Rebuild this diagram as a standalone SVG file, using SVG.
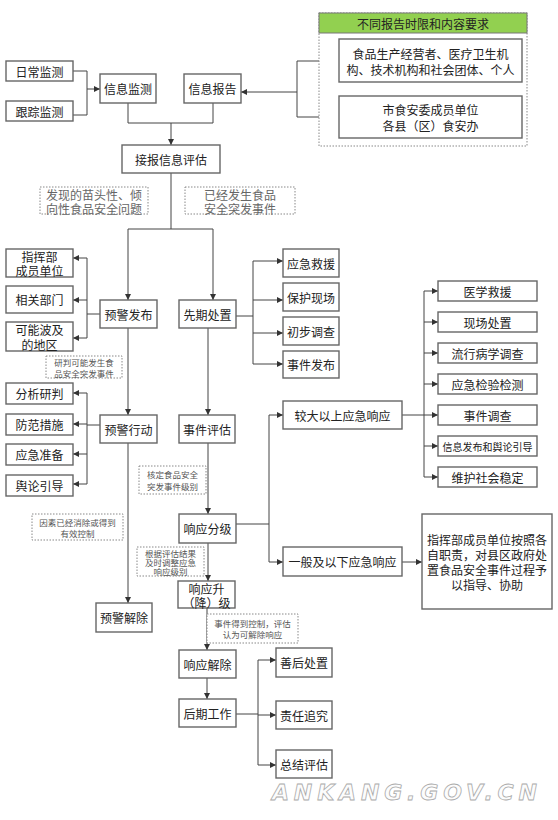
<svg xmlns="http://www.w3.org/2000/svg" width="558" height="820" viewBox="0 0 558 820">
<defs>
<marker id="ah" markerUnits="userSpaceOnUse" markerWidth="6" markerHeight="6" refX="6" refY="3" orient="auto"><path d="M0,0 L6,3 L0,6 z" fill="#333"/></marker>
<style>
.b{fill:#fff;stroke:#666;stroke-width:1.4}
.d{fill:#fff;stroke:#888;stroke-width:1;stroke-dasharray:1.5 1.5}
.t{font-family:"Noto Sans CJK SC","Liberation Sans",sans-serif;font-size:12px;fill:#222;text-anchor:middle;dominant-baseline:central}
.s{font-family:"Noto Sans CJK SC","Liberation Sans",sans-serif;font-size:10px;fill:#222;text-anchor:middle;dominant-baseline:central}
.l{font-family:"Noto Sans CJK SC","Liberation Sans",sans-serif;font-size:12px;fill:#666;text-anchor:middle;dominant-baseline:central}
.m{font-family:"Noto Sans CJK SC","Liberation Sans",sans-serif;font-size:8.5px;fill:#555;text-anchor:middle;dominant-baseline:central}
.c{fill:none;stroke:#444;stroke-width:1}
.a{fill:none;stroke:#444;stroke-width:1;marker-end:url(#ah)}
</style>
</defs>
<rect width="558" height="820" fill="#fff"/>

<g id="connectors">
<path class="c" d="M73,71 H87 V115 H73"/>
<path class="a" d="M87,89 H100"/>
<path class="c" d="M339,61 H297 V117 H339"/>
<path class="a" d="M297,92 H241"/>
<path class="c" d="M128,103 V123 H213 V103"/>
<path class="a" d="M171,123 V145"/>
<path class="c" d="M171,173 V229 M128,229 H213"/>
<path class="a" d="M128,229 V300"/>
<path class="a" d="M213,229 V300"/>
<path class="c" d="M100,314 H87 M87,258 V338"/>
<path class="a" d="M87,258 H73"/>
<path class="a" d="M87,300 H73"/>
<path class="a" d="M87,338 H73"/>
<path class="c" d="M236,316 H253 M253,261 V364"/>
<path class="a" d="M253,261 H283"/>
<path class="a" d="M253,300 H283"/>
<path class="a" d="M253,333 H283"/>
<path class="a" d="M253,364 H283"/>
<path class="a" d="M128,328 V415"/>
<path class="a" d="M208,328 V415"/>
<path class="c" d="M100,425 H87 M87,393 V484"/>
<path class="a" d="M87,393 H73"/>
<path class="a" d="M87,424 H73"/>
<path class="a" d="M87,454 H73"/>
<path class="a" d="M87,484 H73"/>
<path class="a" d="M128,443 V603"/>
<path class="a" d="M208,443 V514"/>
<path class="c" d="M236,524 H269 M269,415 V562"/>
<path class="a" d="M269,415 H283"/>
<path class="a" d="M269,562 H283"/>
<path class="a" d="M402,415 H438"/>
<path class="c" d="M424,291 V477"/>
<path class="a" d="M424,291 H438"/>
<path class="a" d="M424,322 H438"/>
<path class="a" d="M424,353 H438"/>
<path class="a" d="M424,384 H438"/>
<path class="a" d="M424,446 H438"/>
<path class="a" d="M424,477 H438"/>
<path class="a" d="M402,562 H422"/>
<path class="a" d="M208,543 V581"/>
<path class="a" d="M207,608 V650"/>
<path class="a" d="M207,678 V699"/>
<path class="c" d="M236,714 H258 M258,660 V765"/>
<path class="a" d="M258,660 H276"/>
<path class="a" d="M258,715 H276"/>
<path class="a" d="M258,765 H276"/>
</g>

<g id="n-richang"><rect class="b" x="6" y="61" width="67" height="20"/><text class="t" x="39.5" y="71">日常监测</text></g>
<g id="n-genzong"><rect class="b" x="6" y="101" width="67" height="20"/><text class="t" x="39.5" y="111">跟踪监测</text></g>
<g id="n-xinxijiance"><rect class="b" x="100" y="74" width="56" height="29"/><text class="t" x="128" y="88.5">信息监测</text></g>
<g id="n-xinxibaogao"><rect class="b" x="184" y="74" width="57" height="29"/><text class="t" x="212.5" y="88.5">信息报告</text></g>

<g id="n-requirements">
<rect class="d" x="319" y="13" width="208" height="133"/>
<rect x="319" y="13" width="208" height="20" fill="#92d050" stroke="#777" stroke-width="1"/>
<text class="t" x="423" y="23">不同报告时限和内容要求</text>
</g>
<g id="n-source1"><rect class="b" x="339" y="39" width="183" height="43"/><text class="t"><tspan x="430.5" y="53">食品生产经营者、医疗卫生机</tspan><tspan x="430.5" y="68.5">构、技术机构和社会团体、个人</tspan></text></g>
<g id="n-source2"><rect class="b" x="339" y="96" width="183" height="42"/><text class="t"><tspan x="430.5" y="109">市食安委成员单位</tspan><tspan x="430.5" y="125">各县（区）食安办</tspan></text></g>

<g id="n-jiebao"><rect class="b" x="122" y="145" width="98" height="28"/><text class="t" x="171" y="159">接报信息评估</text></g>

<g id="l-faxian"><rect class="d" x="40" y="187" width="108" height="27"/><text class="l"><tspan x="94" y="194">发现的苗头性、倾</tspan><tspan x="94" y="207.5">向性食品安全问题</tspan></text></g>
<g id="l-yijing"><rect class="d" x="185" y="187" width="110" height="27"/><text class="l"><tspan x="240" y="194">已经发生食品</tspan><tspan x="240" y="207.5">安全突发事件</tspan></text></g>

<g id="n-zhihuibu"><rect class="b" x="6" y="249" width="67" height="28"/><text class="t"><tspan x="39.5" y="256">指挥部</tspan><tspan x="39.5" y="270">成员单位</tspan></text></g>
<g id="n-xiangguan"><rect class="b" x="6" y="286" width="67" height="27"/><text class="t" x="39.5" y="299.5">相关部门</text></g>
<g id="n-boji"><rect class="b" x="6" y="322" width="67" height="29"/><text class="t"><tspan x="39.5" y="329">可能波及</tspan><tspan x="39.5" y="344">的地区</tspan></text></g>

<g id="n-yujingfabu"><rect class="b" x="100" y="300" width="57" height="28"/><text class="t" x="128.5" y="314">预警发布</text></g>
<g id="n-xianqi"><rect class="b" x="179" y="300" width="57" height="28"/><text class="t" x="207.5" y="314">先期处置</text></g>

<g id="n-jiuyuan"><rect class="b" x="283" y="249" width="56" height="28"/><text class="t" x="311" y="263">应急救援</text></g>
<g id="n-baohu"><rect class="b" x="283" y="283" width="56" height="28"/><text class="t" x="311" y="297">保护现场</text></g>
<g id="n-chubu"><rect class="b" x="283" y="317" width="56" height="28"/><text class="t" x="311" y="331">初步调查</text></g>
<g id="n-fabu"><rect class="b" x="283" y="351" width="56" height="27"/><text class="t" x="311" y="364.5">事件发布</text></g>

<g id="l-yanpan"><rect class="d" x="46" y="356" width="76" height="22"/><text class="m"><tspan x="84" y="361.5">研判可能发生食</tspan><tspan x="84" y="372.5">品安全突发事件</tspan></text></g>

<g id="n-fenxi"><rect class="b" x="6" y="383" width="67" height="21"/><text class="t" x="39.5" y="393.5">分析研判</text></g>
<g id="n-fangfan"><rect class="b" x="6" y="414" width="67" height="21"/><text class="t" x="39.5" y="424.5">防范措施</text></g>
<g id="n-zhunbei"><rect class="b" x="6" y="444" width="67" height="21"/><text class="t" x="39.5" y="454.5">应急准备</text></g>
<g id="n-yulun"><rect class="b" x="6" y="475" width="67" height="21"/><text class="t" x="39.5" y="485.5">舆论引导</text></g>

<g id="n-yujingxingdong"><rect class="b" x="100" y="415" width="57" height="28"/><text class="t" x="128.5" y="429">预警行动</text></g>
<g id="n-shijianpinggu"><rect class="b" x="179" y="415" width="56" height="28"/><text class="t" x="207" y="429">事件评估</text></g>

<g id="n-yixue"><rect class="b" x="438" y="281" width="99" height="20"/><text class="t" x="487.5" y="291">医学救援</text></g>
<g id="n-xianchang"><rect class="b" x="438" y="312" width="99" height="20"/><text class="t" x="487.5" y="322">现场处置</text></g>
<g id="n-liuxing"><rect class="b" x="438" y="343" width="99" height="20"/><text class="t" x="487.5" y="353">流行病学调查</text></g>
<g id="n-jianyan"><rect class="b" x="438" y="374" width="99" height="20"/><text class="t" x="487.5" y="384">应急检验检测</text></g>
<g id="n-diaocha"><rect class="b" x="438" y="405" width="99" height="20"/><text class="t" x="487.5" y="415">事件调查</text></g>
<g id="n-xinxifabu"><rect class="b" x="438" y="436" width="99" height="20"/><text class="s" x="487.5" y="446">信息发布和舆论引导</text></g>
<g id="n-weihu"><rect class="b" x="438" y="467" width="99" height="20"/><text class="t" x="487.5" y="477">维护社会稳定</text></g>

<g id="n-jiaoda"><rect class="b" x="283" y="401" width="119" height="28"/><text class="t" x="342.5" y="415">较大以上应急响应</text></g>

<g id="l-hedng"><rect class="d" x="139" y="466" width="67" height="28"/><text class="m"><tspan x="172.5" y="474">核定食品安全</tspan><tspan x="172.5" y="486">突发事件级别</tspan></text></g>
<g id="l-yinsu"><rect class="d" x="32" y="514" width="91" height="26"/><text class="m"><tspan x="77.5" y="521.5">因素已经消除或得到</tspan><tspan x="77.5" y="532.5">有效控制</tspan></text></g>

<g id="n-xiangyingfenji"><rect class="b" x="179" y="514" width="57" height="29"/><text class="t" x="207.5" y="528.5">响应分级</text></g>
<g id="n-yiban"><rect class="b" x="283" y="547" width="119" height="29"/><text class="t" x="342.5" y="561.5">一般及以下应急响应</text></g>
<g id="n-zhidao"><rect class="b" x="422" y="514" width="130" height="95"/>
<text class="t"><tspan x="487" y="539">指挥部成员单位按照各</tspan><tspan x="487" y="554">自职责，对县区政府处</tspan><tspan x="487" y="569">置食品安全事件过程予</tspan><tspan x="487" y="584">以指导、协助</tspan></text></g>

<g id="l-genju"><rect class="d" x="137" y="547" width="67" height="29"/><text class="m" font-size="8"><tspan x="170.5" y="552.5">根据评估结果</tspan><tspan x="170.5" y="561.5">及时调整应急</tspan><tspan x="170.5" y="570.5">响应级别</tspan></text></g>

<g id="n-shengjiang"><rect class="b" x="178" y="581" width="57" height="27"/><text class="t" font-size="11"><tspan x="206.5" y="588">响应升</tspan><tspan x="206.5" y="601.5">（降）级</tspan></text></g>
<g id="n-yujingjiechu"><rect class="b" x="96" y="603" width="56" height="29"/><text class="t" x="124" y="617.5">预警解除</text></g>

<g id="l-kongzhi"><rect class="d" x="207" y="614" width="91" height="29"/><text class="m"><tspan x="252.5" y="623">事件得到控制，评估</tspan><tspan x="252.5" y="634">认为可解除响应</tspan></text></g>

<g id="n-xiangyingjiechu"><rect class="b" x="179" y="650" width="57" height="28"/><text class="t" x="207.5" y="664">响应解除</text></g>
<g id="n-houqi"><rect class="b" x="179" y="699" width="57" height="28"/><text class="t" x="207.5" y="713">后期工作</text></g>
<g id="n-shanhou"><rect class="b" x="276" y="648" width="56" height="29"/><text class="t" x="304" y="662.5">善后处置</text></g>
<g id="n-zeren"><rect class="b" x="276" y="701" width="56" height="28"/><text class="t" x="304" y="715">责任追究</text></g>
<g id="n-zongjie"><rect class="b" x="276" y="750" width="56" height="28"/><text class="t" x="304" y="764">总结评估</text></g>

<text x="272" y="800" font-family="DejaVu Sans" font-weight="bold" font-style="italic" font-size="22" fill="#fcfcfc" stroke="#aaa" stroke-width="0.8" textLength="265" lengthAdjust="spacing">ANKANG.GOV.CN</text>
</svg>
